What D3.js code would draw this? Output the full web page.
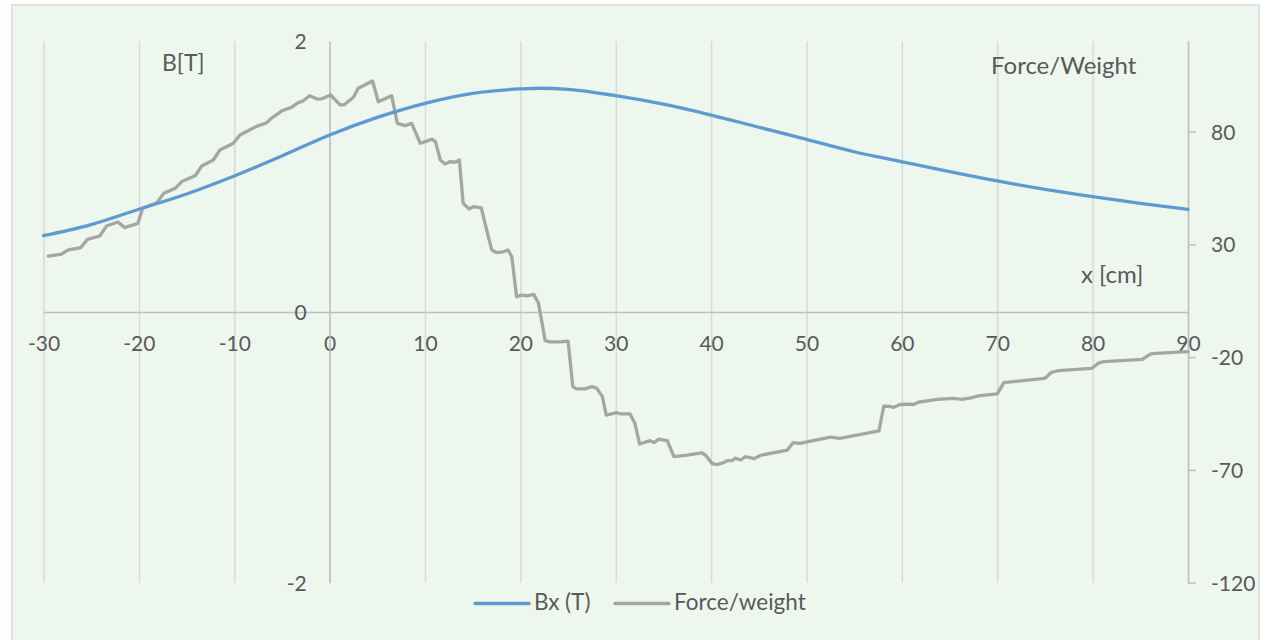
<!DOCTYPE html>
<html>
<head>
<meta charset="utf-8">
<script src="https://cdn.jsdelivr.net/npm/d3@7"></script>
<style>
  html, body { margin: 0; padding: 0; background: #ffffff; }
  svg text { font-family: Lato, "Open Sans", sans-serif; fill: #595959; }
</style>
</head>
<body>
<div id="chart"></div>
<script>
// x positions (cm) and field Bx (T)
const bX = [-30, -25, -20, -15, -10, -5, 0, 5, 10, 15, 20, 22, 25, 30, 35, 40, 45, 50, 55, 60, 65, 70, 75, 80, 85, 90];
const bVal = [0.564, 0.646, 0.759, 0.872, 1.005, 1.153, 1.308, 1.438, 1.542, 1.616, 1.648, 1.653, 1.645, 1.598, 1.535, 1.455,
  1.365, 1.276, 1.184, 1.11, 1.037, 0.968, 0.906, 0.852, 0.803, 0.759];

// force/weight measured points
const forceX = [-29.5, -28.1, -27.4, -26.1, -25.4, -24.1, -23.4, -22.2, -21.5, -20.1, -19.6, -18.1, -17.4, -16.2, -15.5, -14.1, -13.4, -12.2, -11.5, -10.1,
  -9.4, -7.6, -6.6, -6.1, -5.0, -4.0, -3.3, -2.8, -2.1, -1.3, -0.8, 0.1, 1.1, 1.5, 2.5, 3.0, 4.5, 5.1, 6.5, 7.1,
  7.9, 8.6, 9.5, 10.0, 10.7, 11.1, 11.6, 12.1, 12.6, 13.2, 13.6, 14.0, 14.6, 15.1, 15.9, 16.6, 17.0, 17.5, 18.2, 18.7,
  19.1, 19.6, 20.1, 20.7, 21.4, 21.9, 22.6, 23.1, 24.2, 25.0, 25.5, 25.9, 26.8, 27.5, 28.0, 28.6, 29.0, 30.1, 30.5, 31.5,
  32.0, 32.5, 33.6, 34.0, 34.5, 35.4, 36.1, 37.5, 39.0, 39.4, 40.1, 40.6, 41.3, 41.7, 42.2, 42.5, 43.1, 43.6, 44.5, 45.2,
  48.0, 48.6, 49.3, 52.5, 53.5, 57.6, 58.1, 58.8, 59.1, 59.8, 60.9, 61.2, 61.8, 63.0, 63.7, 65.4, 66.3, 67.5, 68.0, 70.0,
  70.7, 75.0, 75.7, 76.4, 79.9, 80.6, 81.2, 85.2, 86.1, 86.6, 90];
const forceVal = [24.8, 25.7, 27.5, 28.5, 32.2, 33.7, 38.1, 39.9, 37.4, 39.3, 46.0, 48.4, 52.6, 54.8, 57.8, 60.4, 64.7, 67.4, 71.8, 74.8,
  78.5, 82.4, 83.9, 85.9, 89.2, 90.7, 92.8, 93.5, 95.9, 94.4, 94.5, 96.2, 91.8, 91.8, 95.2, 99.2, 102.4, 93.2, 95.9, 83.6,
  82.6, 83.6, 74.8, 75.5, 76.6, 75.5, 67.4, 65.6, 66.6, 66.4, 67.4, 48.2, 45.7, 46.7, 46.2, 34.1, 27.5, 26.3, 26.7, 27.5,
  24.5, 6.8, 7.5, 7.2, 7.8, 3.9, -12.7, -13.2, -13.2, -12.9, -33.1, -34.1, -34.1, -33.1, -33.8, -37.5, -45.7, -44.6, -45.2, -45.2,
  -49.3, -58.5, -57.0, -57.9, -56.4, -57.0, -64.1, -63.4, -62.4, -63.4, -67.1, -67.7, -66.8, -65.9, -65.9, -64.8, -65.6, -64.1, -65.0, -63.5,
  -61.2, -57.9, -58.2, -55.5, -56.0, -52.7, -41.7, -41.9, -42.3, -41.0, -40.8, -41.0, -39.9, -39.2, -38.7, -38.3, -38.7, -37.8, -37.2, -36.3,
  -31.3, -29.4, -26.7, -26.0, -25.0, -22.7, -22.0, -21.0, -18.6, -18.3, -17.6];

const xTicks = [-30, -20, -10, 0, 10, 20, 30, 40, 50, 60, 70, 80, 90];
const bTicks = [-2, 0, 2];
const forceTicks = [-120, -70, -20, 30, 80];

function build_chart(width = 1276, height = 640){
  d3.select("#chart").html("")
  const margin = ({top: 41.3, right: 88, bottom: 57.3, left: 43.5});
  const fs = 21; // tick label size
  const plain = d => String(d); // keep the ascii hyphen like excel does

  const svg = d3.select("#chart").append("svg")
    .attr("width", width)
    .attr("height", height);

  // chart area (light green with gray border, runs past the bottom)
  svg.append("rect")
    .attr("x", 12).attr("y", 5)
    .attr("width", 1247).attr("height", height + 10)
    .attr("fill", "#EEF7EE")
    .attr("stroke", "#D9D9D9")
    .attr("stroke-width", 1.5);

  const x = d3.scaleLinear().domain([-30, 90]).range([margin.left, width - margin.right]);
  const yB = d3.scaleLinear().domain([-2, 2]).range([height - margin.bottom, margin.top]);
  const yF = d3.scaleLinear().domain([-120, 120]).range([height - margin.bottom, margin.top]);

  // vertical gridlines
  svg.append("g")
    .attr("transform", `translate(0,${height - margin.bottom})`)
    .call(d3.axisBottom(x).tickValues(xTicks).tickSize(-(height - margin.top - margin.bottom)).tickFormat(""))
    .call(g => g.select(".domain").remove())
    .call(g => g.selectAll("line").attr("stroke", "#D9D9D9").attr("stroke-width", 1.5));

  // x axis, crossing at B = 0
  svg.append("g")
    .attr("transform", `translate(0,${yB(0)})`)
    .call(d3.axisBottom(x).tickValues(xTicks).tickSize(0).tickFormat(plain))
    .call(g => g.select(".domain").attr("stroke", "#BFBFBF").attr("stroke-width", 1.5))
    .call(g => g.selectAll("text").attr("y", 39).attr("dy", null)
                 .attr("font-size", fs).attr("fill", "#595959"));

  // left axis for B, crossing at x = 0
  svg.append("g")
    .attr("transform", `translate(${x(0)},0)`)
    .call(d3.axisLeft(yB).tickValues(bTicks).tickSize(0).tickPadding(23).tickFormat(plain))
    .call(g => g.select(".domain").attr("stroke", "#BFBFBF").attr("stroke-width", 1.5))
    .call(g => g.selectAll("text").attr("dy", "0.36em")
                 .attr("font-size", fs).attr("fill", "#595959"));

  // right axis for force/weight
  svg.append("g")
    .attr("transform", `translate(${width - margin.right},0)`)
    .call(d3.axisRight(yF).tickValues(forceTicks).tickSize(8).tickSizeOuter(0).tickPadding(15).tickFormat(plain))
    .call(g => g.select(".domain").attr("stroke", "#BFBFBF").attr("stroke-width", 1.5))
    .call(g => g.selectAll(".tick line").attr("stroke", "#BFBFBF").attr("stroke-width", 1.5))
    .call(g => g.selectAll("text").attr("dy", "0.36em")
                 .attr("font-size", fs).attr("fill", "#595959"));

  // the two curves
  const bData = bX.map((d, i) => ({x: d, v: bVal[i]}));
  const fData = forceX.map((d, i) => ({x: d, v: forceVal[i]}));

  const lineB = d3.line().x(d => x(d.x)).y(d => yB(d.v)).curve(d3.curveMonotoneX);
  const lineF = d3.line().x(d => x(d.x)).y(d => yF(d.v));

  svg.append("path")
    .attr("d", lineF(fData))
    .attr("fill", "none")
    .attr("stroke", "#A5A5A5")
    .attr("stroke-width", 3.3)
    .attr("stroke-linejoin", "round")
    .attr("stroke-linecap", "round");

  svg.append("path")
    .attr("d", lineB(bData))
    .attr("fill", "none")
    .attr("stroke", "#5B9BD5")
    .attr("stroke-width", 3.3)
    .attr("stroke-linecap", "round");

  // axis titles
  svg.append("text").attr("x", 162).attr("y", 71).attr("font-size", 23).text("B[T]");
  svg.append("text").attr("x", 991).attr("y", 74).attr("font-size", 24).text("Force/Weight");
  svg.append("text").attr("x", 1081).attr("y", 283).attr("font-size", 24).text("x [cm]");

  // legend
  const legend = [
    {name: "Bx (T)", color: "#5B9BD5", x: 475},
    {name: "Force/weight", color: "#A5A5A5", x: 615}
  ];
  const lg = svg.append("g").selectAll("g").data(legend).enter().append("g");
  lg.append("line")
    .attr("x1", d => d.x).attr("x2", d => d.x + 54)
    .attr("y1", 603.5).attr("y2", 603.5)
    .attr("stroke", d => d.color).attr("stroke-width", 3.3).attr("stroke-linecap", "round");
  lg.append("text")
    .attr("x", d => d.x + 59).attr("y", 610)
    .attr("font-size", 22.5)
    .text(d => d.name);

  return svg.node()
}

build_chart();
</script>
</body>
</html>
